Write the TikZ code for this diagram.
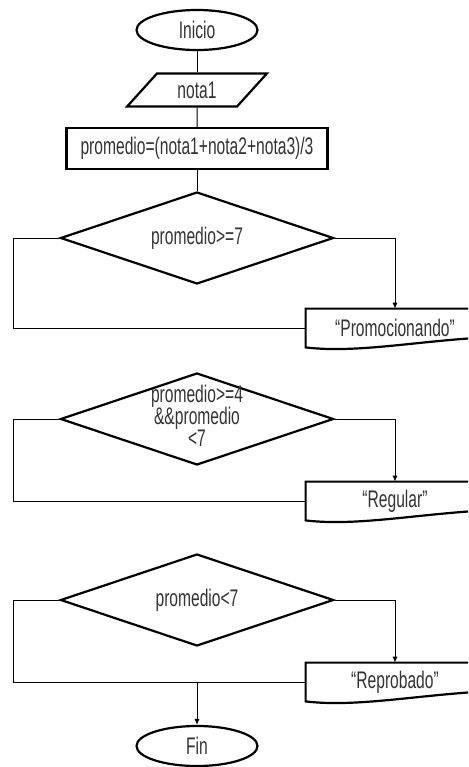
\documentclass[tikz,border=0pt]{standalone}
\usepackage{fontspec}
\setmainfont{Liberation Sans}[FakeStretch=0.65]
\usetikzlibrary{shapes.geometric}
\usetikzlibrary{arrows.meta}

\tikzset{
 terminal/.style={ellipse,draw,line width=1.1pt,minimum width=60.5pt,minimum height=20pt,inner sep=0pt},
 entrada/.style={trapezium,trapezium left angle=49,trapezium right angle=131,trapezium stretches=true,draw,line width=1.1pt,minimum width=70pt,minimum height=16.5pt,inner sep=0pt},
 proceso/.style={rectangle,draw,line width=1.1pt,minimum width=130.5pt,minimum height=20.5pt,inner sep=0pt},
 decision/.style={diamond,draw,line width=1.1pt,aspect=2.97,minimum width=136.5pt,minimum height=46pt,inner sep=0pt,align=center},
 salida/.style={rectangle,minimum width=89pt,minimum height=19pt,inner sep=0pt},
 contorno/.style={line width=1.1pt,line join=miter},
 linea/.style={line width=0.5pt},
 flecha/.style={line width=0.5pt,-{Latex[length=3pt,width=2.6pt]}}
}

\begin{document}
\begin{tikzpicture}[x=0.5pt,y=-0.5pt,font=\fontsize{12}{10.5}\selectfont,text=black!80]
 \useasboundingbox (0,0) rectangle (468,767);
 \clip (0,0) rectangle (468,767);
 % inicio y lectura
 \node[terminal] (inicio) at (197,30) {Inicio};
 \node[entrada] (leer) at (197,90) {nota1};
 \node[proceso] (calc) at (197,148.5) {promedio=(nota1+nota2+nota3)/3};
 % decisiones
 \node[decision] (d1) at (197,238) {promedio>=7};
 \node[decision] (d2) at (197,419) {\makebox[0pt]{\raisebox{-3.5pt}{\begin{tabular}{@{}c@{}}promedio>=4\\[-0.5pt]\&\&promedio\\[-0.5pt]<7\end{tabular}}}};
 \node[decision] (d3) at (197,600) {promedio<7};
 % salidas
 \node[salida] (s1) at (395,328) {“Promocionando"};
 \node[salida] (s2) at (395,501) {“Regular"};
 \node[salida] (s3) at (395,682) {“Reprobado"};
 \draw[contorno] (s1.north east) -- (s1.north west) -- (s1.south west) .. controls ([shift={(50,6)}]s1.south west) and ([shift={(-70,-6)}]s1.south east) .. ([shift={(0,-10)}]s1.south east) -- (s1.north east);
 \draw[contorno] (s2.north east) -- (s2.north west) -- (s2.south west) .. controls ([shift={(50,6)}]s2.south west) and ([shift={(-70,-6)}]s2.south east) .. ([shift={(0,-10)}]s2.south east) -- (s2.north east);
 \draw[contorno] (s3.north east) -- (s3.north west) -- (s3.south west) .. controls ([shift={(50,6)}]s3.south west) and ([shift={(-70,-6)}]s3.south east) .. ([shift={(0,-10)}]s3.south east) -- (s3.north east);
 \node[terminal] (fin) at (197,746) {Fin};
 % conexiones
 \draw[linea] (inicio) -- (leer);
 \draw[linea] (leer) -- (calc);
 \draw[linea] (calc) -- (d1);
 \draw[linea] (d1.west) -- ++(-46,0) |- (s1.west);
 \draw[flecha] (d1.east) -| (s1.north);
 \draw[linea] (d2.west) -- ++(-46,0) |- (s2.west);
 \draw[flecha] (d2.east) -| (s2.north);
 \draw[linea] (d3.west) -- ++(-46,0) |- (s3.west);
 \draw[flecha] (d3.east) -| (s3.north);
 \draw[flecha] (fin.north |- s3.west) -- (fin.north);
\end{tikzpicture}
\end{document}
